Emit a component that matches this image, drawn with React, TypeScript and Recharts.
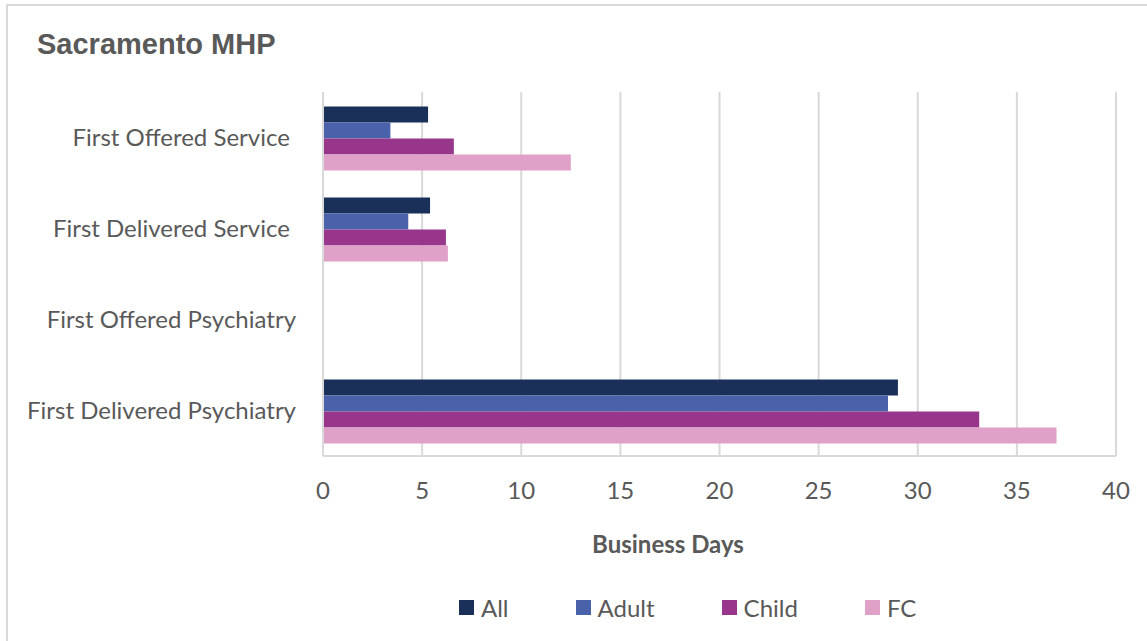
import { BarChart, Bar, XAxis, YAxis, CartesianGrid } from 'recharts';

// categories, top to bottom (the two "Service" labels carry a trailing space in the source)
const categories = [
  'First Offered Service\u00a0',
  'First Delivered Service\u00a0',
  'First Offered Psychiatry',
  'First Delivered Psychiatry',
];
const allValues = [5.3, 5.4, null, 29.0];
const adultValues = [3.4, 4.3, null, 28.5];
const childValues = [6.6, 6.2, null, 33.1];
const fcValues = [12.5, 6.3, null, 37.0];
const xTicks = [0, 5, 10, 15, 20, 25, 30, 35, 40];

const series = [
  { key: 'all', name: 'All', color: '#1a3058' },
  { key: 'adult', name: 'Adult', color: '#4a62aa' },
  { key: 'child', name: 'Child', color: '#97368a' },
  { key: 'fc', name: 'FC', color: '#e0a1c8' },
];

const chartData = categories.map((name, i) => ({
  name,
  all: allValues[i],
  adult: adultValues[i],
  child: childValues[i],
  fc: fcValues[i],
}));

const TEXT = '#595959';
const GRID = '#d9d9d9';
const FONT = 'Lato, "Open Sans", sans-serif';

export default function App() {
  return (
    <div
      style={{
        position: 'fixed',
        left: 0,
        top: 0,
        width: 1147,
        height: 641,
        overflow: 'hidden',
        background: '#fff',
      }}
    >
      <div
        style={{
          position: 'absolute',
          left: 6,
          top: 4,
          width: 1160,
          height: 660,
          border: `2px solid ${GRID}`,
        }}
      />
      <div
        style={{
          position: 'absolute',
          left: 37,
          top: 30,
          fontFamily: '"Liberation Sans", Arial, sans-serif',
          fontWeight: 'bold',
          fontSize: 29,
          lineHeight: 1,
          color: TEXT,
        }}
      >
        Sacramento MHP
      </div>

      <div style={{ position: 'absolute', left: 0, top: 0 }}>
        <BarChart
          width={1147}
          height={641}
          data={chartData}
          layout="vertical"
          margin={{ top: 92, right: 31, left: 0, bottom: 155 }}
          barCategoryGap="15.8%"
          barGap={0}
        >
          <CartesianGrid horizontal={false} stroke={GRID} strokeWidth={2} />
          <XAxis
            type="number"
            domain={[0, 40]}
            ticks={xTicks}
            height={30}
            tickLine={false}
            tickSize={0}
            tickMargin={26}
            axisLine={{ stroke: GRID, strokeWidth: 2 }}
            tick={{ fontSize: 24, fill: TEXT, fontFamily: FONT }}
          />
          <YAxis
            type="category"
            dataKey="name"
            width={323}
            tickLine={false}
            tickSize={0}
            tickMargin={27}
            axisLine={{ stroke: GRID, strokeWidth: 2 }}
            tick={{ fontSize: 24, fill: TEXT, fontFamily: FONT }}
          />
          {series.map((s) => (
            <Bar
              key={s.key}
              dataKey={s.key}
              name={s.name}
              fill={s.color}
              isAnimationActive={false}
            />
          ))}
        </BarChart>
      </div>

      <div
        style={{
          position: 'absolute',
          left: 668,
          top: 530,
          transform: 'translateX(-50%)',
          fontFamily: FONT,
          fontWeight: 'bold',
          fontSize: 24,
          lineHeight: 1.2,
          color: TEXT,
          whiteSpace: 'nowrap',
        }}
      >
        Business Days
      </div>

      <div
        style={{
          position: 'absolute',
          left: 459,
          top: 592,
          height: 30,
          display: 'flex',
          alignItems: 'center',
          fontFamily: FONT,
          fontSize: 24,
          color: TEXT,
          whiteSpace: 'nowrap',
        }}
      >
        {series.map((s) => (
          <div
            key={s.key}
            style={{ display: 'flex', alignItems: 'center', marginRight: 67 }}
          >
            <span
              style={{
                display: 'inline-block',
                width: 15,
                height: 15,
                background: s.color,
                marginRight: 7,
              }}
            />
            <span>{s.name}</span>
          </div>
        ))}
      </div>
    </div>
  );
}
